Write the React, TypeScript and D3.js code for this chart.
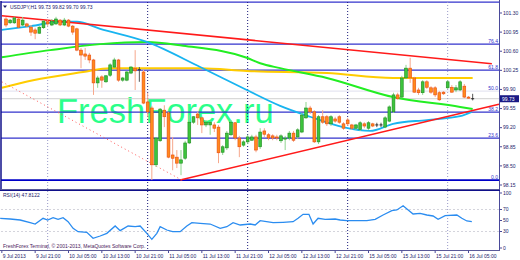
import React from "react";
import * as d3 from "d3";

const W = 520;
const H = 260;

const symbolTitle = "USDJPY,H1";
const lastBar = ["99.73", "99.82", "99.70", "99.73"];
const bidPrice = 99.73;
const rsiTitle = "RSI(14) 47.8122";
const copyright = "FreshForex Terminal, © 2001-2013, MetaQuotes Software Corp.";
const watermark = "FreshForex.ru";

// hourly bars starting 9 Jul 2013 14:00
const opens = [
  101.19, 101.12, 101.12, 101.19, 101.08, 101.10, 101.04, 100.99, 100.93, 101.03,
  101.14, 101.08, 101.10, 101.17, 101.08, 101.17, 101.06, 101.01, 100.62, 100.55,
  100.53, 100.44, 100.02, 100.13, 100.04, 100.16, 100.31, 100.44, 100.07, 100.07,
  100.20, 100.29, 100.26, 100.22, 99.67, 99.56, 98.52, 98.96, 99.52, 99.47,
  98.70, 98.66, 98.55, 98.64, 98.92, 99.30, 99.45, 99.38, 99.25, 99.25,
  99.25, 99.21, 98.75, 98.83, 99.07, 99.29, 99.01, 98.88, 98.94, 98.97,
  99.03, 98.85, 99.14, 99.07, 99.05, 99.03, 98.96, 98.99, 99.01, 99.10,
  99.03, 99.12, 99.38, 99.56, 99.49, 98.94, 99.40, 99.40, 99.27, 99.36,
  99.40, 99.27, 99.34, 99.25, 99.19, 99.17, 99.27, 99.19, 99.27, 99.25,
  99.25, 99.21, 99.32, 99.49, 99.80, 99.76, 100.11, 100.29, 100.11, 99.89,
  99.84, 100.04, 99.93, 99.93, 99.84, 99.85, 99.93, 99.94, 99.89, 99.89,
  99.96, 99.76, 99.73,
];
const highs = [
  101.23, 101.19, 101.23, 101.21, 101.23, 101.12, 101.08, 101.03, 101.06, 101.17,
  101.17, 101.19, 101.23, 101.19, 101.21, 101.19, 101.08, 101.03, 100.66, 100.66,
  100.57, 100.46, 100.15, 100.16, 100.16, 100.38, 100.48, 100.46, 100.13, 100.24,
  100.33, 100.62, 100.31, 100.26, 99.84, 99.60, 99.03, 99.56, 99.61, 99.49,
  99.03, 98.79, 98.79, 98.96, 99.43, 99.41, 99.49, 99.40, 99.34, 99.32,
  99.30, 99.25, 98.88, 99.14, 99.34, 99.30, 99.05, 98.97, 99.07, 99.07,
  99.07, 99.19, 99.19, 99.10, 99.08, 99.07, 99.08, 99.05, 99.14, 99.14,
  99.19, 99.47, 99.67, 99.60, 99.52, 99.43, 99.52, 99.43, 99.43, 99.40,
  99.43, 99.30, 99.38, 99.27, 99.27, 99.32, 99.30, 99.32, 99.29, 99.29,
  99.29, 99.41, 99.61, 99.84, 99.84, 100.15, 100.35, 100.48, 100.13, 99.93,
  100.07, 100.07, 99.96, 99.96, 99.87, 99.87, 100.07, 99.98, 99.98, 100.07,
  100.00, 99.78, 99.82,
];
const lows = [
  101.04, 101.10, 101.10, 101.03, 101.06, 101.04, 100.88, 100.82, 100.92, 101.01,
  101.06, 101.06, 101.08, 101.06, 101.06, 101.04, 100.90, 100.60, 100.29, 100.44,
  100.38, 99.80, 99.93, 99.93, 100.02, 100.13, 100.29, 100.04, 100.04, 100.05,
  100.18, 99.89, 100.04, 99.63, 99.40, 98.24, 98.48, 98.94, 99.21, 98.64,
  98.42, 98.46, 98.33, 98.61, 98.90, 99.27, 99.25, 99.10, 99.21, 99.07,
  99.12, 98.55, 98.70, 98.79, 99.05, 98.97, 98.66, 98.85, 98.90, 98.96,
  98.75, 98.81, 99.03, 98.97, 98.97, 98.97, 98.92, 98.79, 98.97, 98.94,
  98.99, 99.10, 99.36, 99.45, 98.92, 98.90, 99.27, 99.23, 99.23, 99.29,
  99.27, 99.16, 99.23, 99.16, 99.16, 99.14, 99.19, 99.16, 99.21, 99.21,
  99.21, 99.19, 99.30, 99.47, 99.71, 99.74, 100.09, 100.02, 99.84, 99.80,
  99.80, 99.91, 99.82, 99.76, 99.69, 99.80, 99.91, 99.84, 99.85, 99.87,
  99.74, 99.73, 99.70,
];
const closes = [
  101.08, 101.17, 101.21, 101.04, 101.17, 101.06, 100.95, 100.93, 101.04, 101.15,
  101.10, 101.15, 101.19, 101.08, 101.17, 101.06, 100.95, 100.62, 100.53, 100.51,
  100.44, 100.02, 100.11, 100.07, 100.15, 100.35, 100.44, 100.07, 100.11, 100.22,
  100.31, 100.24, 100.26, 99.65, 99.49, 98.52, 99.01, 99.54, 99.40, 98.66,
  98.64, 98.55, 98.61, 98.92, 99.30, 99.40, 99.38, 99.25, 99.30, 99.30,
  99.19, 98.74, 98.85, 99.10, 99.30, 99.01, 98.85, 98.94, 99.03, 99.03,
  98.79, 99.12, 99.08, 99.01, 99.01, 99.01, 99.05, 99.01, 99.10, 98.97,
  99.16, 99.43, 99.56, 99.49, 98.94, 99.40, 99.30, 99.27, 99.40, 99.32,
  99.30, 99.19, 99.27, 99.19, 99.25, 99.29, 99.23, 99.29, 99.23, 99.25,
  99.25, 99.38, 99.58, 99.80, 99.73, 100.11, 100.29, 100.11, 99.85, 99.84,
  100.04, 99.94, 99.85, 99.80, 99.71, 99.82, 100.04, 99.85, 99.93, 100.04,
  99.76, 99.74, 99.73,
];

// moving averages read as [bar, price]
const blueMA: [number, number][] = [
  [-1, 100.99], [6, 101.06], [13, 101.14], [17, 101.14], [22.6, 101.01],
  [33.8, 100.77], [46.6, 100.31], [57.8, 99.89], [65.8, 99.6], [73, 99.4],
  [80.9, 99.21], [87.4, 99.14], [92.9, 99.27], [101, 99.34], [109, 99.41], [111.8, 99.49],
];
const greenMA: [number, number][] = [
  [-1, 100.49], [10.6, 100.62], [22.6, 100.73], [33.8, 100.77], [42.5, 100.7],
  [57.8, 100.48], [61, 100.38], [65.8, 100.29], [77, 100.11], [92.9, 99.76],
  [109, 99.58], [112, 99.54],
];
const goldMA: [number, number][] = [
  [-1, 99.93], [6.5, 100.07], [18.5, 100.22], [25, 100.29], [30.5, 100.29],
  [46.6, 100.29], [57.8, 100.24], [77, 100.2], [92.9, 100.11], [112, 100.11],
];

const rsiPoints: [number, number][] = [
  [-1.4, 54.0], [1, 52.7], [3.4, 50.9], [5.8, 46.0], [7, 43.6], [8.9, 54.0], [10, 50.9],
  [11.3, 55.1], [12.5, 52.2], [13.7, 55.1], [14.9, 47.8], [16.1, 35.8], [17.3, 29.6],
  [19.4, 28.5], [20.9, 17.6], [22.6, 21.8], [24.2, 26.7], [26.2, 40.0], [27.4, 31.5],
  [29.3, 40.0], [31, 38.7], [32.2, 40.0], [33.8, 26.7], [35, 15.8], [36.2, 26.7],
  [37, 38.7], [38.6, 32.7], [40, 29.6], [41.8, 29.6], [43.4, 40.0], [44.6, 46.0],
  [46.6, 44.9], [49, 43.6], [51.4, 35.8], [53, 38.7], [54.5, 46.0], [56.2, 41.8],
  [58.6, 43.6], [59.8, 41.8], [61, 49.6], [64.1, 46.0], [66.5, 46.7], [68.9, 47.8],
  [70.1, 54.0], [71.3, 61.3], [72.7, 61.3], [73.7, 43.6], [74.9, 54.0], [76.6, 52.2],
  [79, 52.7], [80.2, 50.9], [81.8, 49.6], [84.2, 49.6], [86.6, 49.6], [88.6, 52.2],
  [90.5, 60.0], [92.6, 67.8], [93.8, 69.1], [95.3, 76.9], [97.7, 61.8], [99.4, 63.1],
  [101, 60.0], [102.5, 58.2], [103.7, 52.2], [105.4, 58.7], [108.2, 60.0], [109.4, 54.0],
  [110.6, 49.1], [111.8, 47.8],
];

const priceTicks = [101.3, 100.95, 100.6, 100.25, 99.9, 99.55, 99.2, 98.85, 98.5, 98.15];
const rsiTicks = [100, 70, 50, 30, 0];
const rsiDotted = [70, 30];

const timeBars = [-1, 7, 15, 23, 31, 39, 47, 55, 63, 71, 79, 87, 95, 103, 111];
const timeTexts = [
  "9 Jul 2013", "9 Jul 21:00", "10 Jul 05:00", "10 Jul 13:00", "10 Jul 21:00",
  "11 Jul 05:00", "11 Jul 13:00", "11 Jul 21:00", "12 Jul 05:00", "12 Jul 13:00",
  "12 Jul 21:00", "15 Jul 05:00", "15 Jul 13:00", "15 Jul 21:00", "16 Jul 05:00",
];

const separatorBars = [10, 34, 58, 82, 106];
const separatorDark = [false, true, true, true, false];

const fibLow = 98.24;
const fibHigh = 101.5;
const fibLevels = [0, 23.6, 38.2, 50, 61.8, 76.4, 100];

const trendUpper: [number, number][] = [[-1, 101.25], [116.6, 100.37]];
const trendLower: [number, number][] = [[41.8, 98.24], [118.3, 99.63]];
const fibDiagonal: [number, number][] = [[-1, 100.04], [42.2, 98.24]];

const FONT = "'Liberation Sans', Arial, sans-serif";

export default function App() {
  const x = d3.scaleLinear().domain([0, 120]).range([6, 506]);
  const y = d3.scaleLinear().domain([98.15, 101.3]).range([185, 13]);
  const yr = d3.scaleLinear().domain([0, 100]).range([248, 193]);

  const maLine = d3
    .line<[number, number]>()
    .x((d) => x(d[0]))
    .y((d) => y(d[1]))
    .curve(d3.curveMonotoneX);
  const straight = d3
    .line<[number, number]>()
    .x((d) => x(d[0]))
    .y((d) => y(d[1]));
  const rsiLine = d3
    .line<[number, number]>()
    .x((d) => x(d[0]))
    .y((d) => yr(d[1]));

  const fibPrice = (lv: number) => fibLow + ((fibHigh - fibLow) * lv) / 100;
  const bodyW = 2.8;

  return (
    <svg
      width={W}
      height={H}
      viewBox={`0 0 ${W} ${H}`}
      style={{ position: "absolute", left: 0, top: 0, background: "#fff" }}
      fontFamily={FONT}
    >
      <rect x={0} y={0} width={W} height={H} fill="#fff" />

      {/* watermark */}
      <text x={57} y={123} fontSize={34.5} fill="#2aff8a" fontFamily={FONT}>
        {watermark}
      </text>

      {/* fib levels */}
      {fibLevels.map((lv) => {
        const yy = y(fibPrice(lv));
        const light = lv === 50;
        return (
          <g key={lv}>
            <line
              x1={1}
              x2={499}
              y1={yy}
              y2={yy}
              stroke={light ? "#e6e6f2" : lv === 0 ? "#0000c8" : "#3333cc"}
              strokeWidth={lv === 0 ? 1.6 : 1.2}
            />
            {lv !== 100 && (
              <text x={498} y={yy - 1.5} fontSize={5} textAnchor="end" fill="#3333cc">
                {lv.toFixed(1)}
              </text>
            )}
          </g>
        );
      })}

      {/* bid line */}
      <line x1={1} x2={499} y1={y(bidPrice)} y2={y(bidPrice)} stroke="#cfcfcf" strokeWidth={1} />

      {/* separators */}
      {separatorBars.map((b, k) => (
        <g key={b}>
          <line
            x1={x(b)}
            x2={x(b)}
            y1={2}
            y2={189}
            stroke={separatorDark[k] ? "#1a1a7a" : "#9a9ac8"}
            strokeWidth={1}
            strokeDasharray="1,2"
          />
          <line
            x1={x(b)}
            x2={x(b)}
            y1={191}
            y2={250}
            stroke={separatorDark[k] ? "#1a1a7a" : "#9a9ac8"}
            strokeWidth={1}
            strokeDasharray="1,2"
          />
        </g>
      ))}

      {/* moving averages */}
      <path d={maLine(goldMA) || ""} fill="none" stroke="#ffcc00" strokeWidth={2} />
      <path d={maLine(greenMA) || ""} fill="none" stroke="#22ee22" strokeWidth={2} />
      <path d={maLine(blueMA) || ""} fill="none" stroke="#18b4f0" strokeWidth={1.8} />

      {/* trend lines */}
      <path d={straight(trendUpper) || ""} fill="none" stroke="#ff1a1a" strokeWidth={1.6} />
      <path d={straight(trendLower) || ""} fill="none" stroke="#ff1a1a" strokeWidth={1.6} />
      <path
        d={straight(fibDiagonal) || ""}
        fill="none"
        stroke="#ff5a5a"
        strokeWidth={1}
        strokeDasharray="1,3"
      />

      {/* candles */}
      {opens.map((o, i) => {
        const c = closes[i];
        const cx = x(i);
        const bull = c > o;
        const doji = Math.abs(c - o) < 0.005;
        const top = y(Math.max(o, c));
        const bot = y(Math.min(o, c));
        const wick = doji ? "#555" : bull ? "#8fd68f" : "#f6a88c";
        return (
          <g key={i}>
            <line x1={cx} x2={cx} y1={y(highs[i])} y2={y(lows[i])} stroke={wick} strokeWidth={1} />
            {doji ? (
              <line x1={cx - 1.5} x2={cx + 1.5} y1={top} y2={top} stroke="#222" strokeWidth={1} />
            ) : (
              <rect
                x={cx - bodyW / 2}
                y={top}
                width={bodyW}
                height={Math.max(1, bot - top)}
                fill={bull ? "#3cc43c" : "#ff8a1c"}
                stroke={bull ? "#1e8a1e" : "#e84a10"}
                strokeWidth={0.6}
              />
            )}
          </g>
        );
      })}

      {/* main frame */}
      <line x1={1} x2={1} y1={1} y2={190} stroke="#10108a" strokeWidth={1.5} />
      <line x1={1} x2={500} y1={189.5} y2={189.5} stroke="#5a5a9a" strokeWidth={1} />
      <line x1={499.5} x2={499.5} y1={0} y2={251} stroke="#4a4a9a" strokeWidth={1} />

      {/* title */}
      <path d="M3,5.5 L7,5.5 L5,8 Z" fill="#1a1a6a" />
      <text x={10} y={8.5} fontSize={5} fill="#1a1a6a">
        {`${symbolTitle}  ${lastBar.join(" ")}`}
      </text>

      {/* price axis */}
      {priceTicks.map((p) => (
        <g key={p}>
          <line x1={499.5} x2={502} y1={y(p)} y2={y(p)} stroke="#4a4a9a" />
          <text x={503} y={y(p) + 1.8} fontSize={5} fill="#1a1a6a">
            {p.toFixed(2)}
          </text>
        </g>
      ))}
      <rect x={500} y={y(bidPrice) - 3.5} width={19} height={7} fill="#1a1a86" />
      <text x={502} y={y(bidPrice) + 1.8} fontSize={5} fill="#fff">
        {bidPrice.toFixed(2)}
      </text>

      {/* RSI window */}
      <line x1={0} x2={500} y1={190.5} y2={190.5} stroke="#10108a" strokeWidth={1} />
      <line x1={0} x2={500} y1={250.5} y2={250.5} stroke="#5a5a9a" strokeWidth={1} />
      {rsiDotted.map((v) => (
        <line
          key={v}
          x1={1}
          x2={499}
          y1={yr(v)}
          y2={yr(v)}
          stroke="#d4d4dc"
          strokeWidth={1}
          strokeDasharray="2,2"
        />
      ))}
      <path d={rsiLine(rsiPoints) || ""} fill="none" stroke="#2a8cf0" strokeWidth={1.3} />
      <text x={3} y={197} fontSize={5} fill="#1a1a6a">
        {rsiTitle}
      </text>
      <text x={3} y={248} fontSize={5} fill="#4a1a5a">
        {copyright}
      </text>
      {rsiTicks.map((v) => (
        <g key={v}>
          <line x1={499.5} x2={502} y1={yr(v)} y2={yr(v)} stroke="#4a4a9a" />
          <text x={503} y={yr(v) + 1.8} fontSize={5} fill="#1a1a6a">
            {v}
          </text>
        </g>
      ))}

      {/* time axis */}
      {timeBars.map((b, k) => (
        <g key={b}>
          <line x1={x(b)} x2={x(b)} y1={250.5} y2={253} stroke="#4a4a9a" />
          <text x={x(b) + 0.8} y={257.5} fontSize={5} fill="#1a1a6a">
            {timeTexts[k]}
          </text>
        </g>
      ))}
    </svg>
  );
}
